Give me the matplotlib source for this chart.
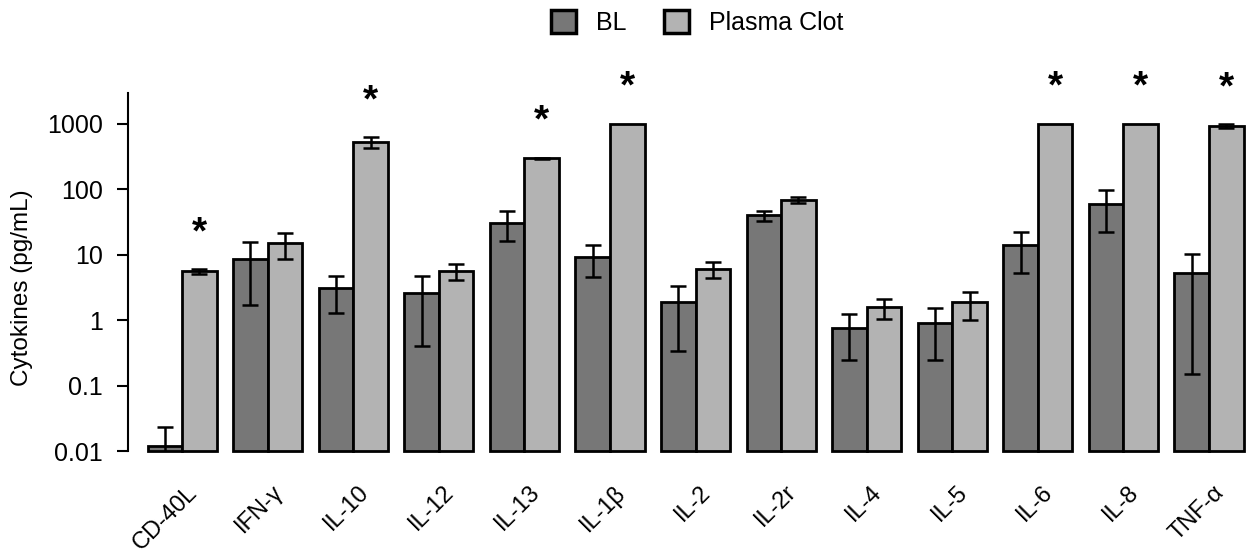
import matplotlib
matplotlib.use("Agg")
import matplotlib.pyplot as plt
import matplotlib.transforms as mtransforms
import numpy as np

plt.rcParams["font.family"] = ["Liberation Sans", "DejaVu Sans"]

# values (pg/mL); low/high are the error bar ends
cytokines = ["CD-40L", "IFN-γ", "IL-10", "IL-12", "IL-13", "IL-1β", "IL-2",
             "IL-2r", "IL-4", "IL-5", "IL-6", "IL-8", "TNF-α"]
bl_mean = [0.012, 8.6, 3.1, 2.6, 31, 9.3, 1.9, 40, 0.76, 0.90, 14.3, 60, 5.3]
bl_low = [0.001, 1.7, 1.3, 0.41, 16.4, 4.6, 0.34, 33, 0.25, 0.25, 5.3, 22.5, 0.15]
bl_high = [0.0235, 15.5, 4.8, 4.7, 46.7, 14.0, 3.4, 46, 1.25, 1.54, 22.5, 99, 10.3]
pc_mean = [5.6, 15.3, 527, 5.7, 297, 1000, 6.1, 70, 1.58, 1.88, 1000, 1000, 925]
pc_low = [5.1, 8.6, 431, 4.2, 288, np.nan, 4.5, 62, 1.05, 1.01, np.nan, np.nan, 870]
pc_high = [6.0, 21.5, 622, 7.2, 306, np.nan, 7.7, 77, 2.09, 2.68, np.nan, np.nan, 985]
significant = [True, False, True, False, True, True, False, False, False, False, True, True, True]

dark = "#777777"
light = "#b3b3b3"
ymin, ymax = 0.01, 2925
w = 0.404

fig = plt.figure(figsize=(12.47, 5.53), dpi=100)
fig.subplots_adjust(left=0.1026, right=0.999, bottom=0.184, top=0.831)
ax = fig.add_subplot(111)
ax.set_yscale("log")

x = np.arange(len(cytokines))

def draw(xpos, mean, low, high, color, label):
    mean = np.array(mean, float)
    low = np.array(low, float)
    high = np.array(high, float)
    ax.bar(xpos, mean - ymin, w, bottom=ymin, color=color, edgecolor="black",
           linewidth=2, label=label, clip_on=False, zorder=2)
    ok = ~np.isnan(low)
    ax.errorbar(xpos[ok], mean[ok], yerr=[mean[ok] - low[ok], high[ok] - mean[ok]],
                fmt="none", ecolor="black", elinewidth=1.8, capsize=5.5,
                capthick=1.8, zorder=3)
    return np.where(ok, high, mean)

bl_top = draw(x - w / 2, bl_mean, bl_low, bl_high, dark, "BL")
pc_top = draw(x + w / 2, pc_mean, pc_low, pc_high, light, "Plasma Clot")

for i, sig in enumerate(significant):
    if sig:
        ax.annotate("*", xy=(x[i] + w / 2, pc_top[i]), xytext=(0, 19),
                    textcoords="offset points", ha="center", va="baseline",
                    fontsize=28, fontweight="bold", annotation_clip=False)

ax.set_ylim(ymin, ymax)
ax.set_xlim(-0.634, 12.43)
ax.set_yticks([0.01, 0.1, 1, 10, 100, 1000])
ax.set_yticklabels(["0.01", "0.1", "1", "10", "100", "1000"])
ax.minorticks_off()
ax.tick_params(axis="y", length=8, width=1.5, pad=10, labelsize=18)

ax.set_xticks(x)
ax.set_xticklabels(cytokines, rotation=45, ha="right", va="top",
                   rotation_mode="anchor", fontsize=17)
ax.tick_params(axis="x", length=0, pad=0)
shift = mtransforms.ScaledTranslation(4 / 100, -30 / 100, fig.dpi_scale_trans)
for lab in ax.get_xticklabels():
    lab.set_transform(lab.get_transform() + shift)

for s in ["top", "right", "bottom"]:
    ax.spines[s].set_visible(False)
ax.spines["left"].set_linewidth(1.5)

ax.set_ylabel("Cytokines (pg/mL)", fontsize=17.5)
ax.yaxis.set_label_coords(-0.085, 0.457)

leg = fig.legend(loc="center", bbox_to_anchor=(0.559, 0.959), ncol=2, frameon=False,
                 fontsize=18, handlelength=1.0, handleheight=1.0, columnspacing=1.5,
                 handletextpad=0.8)
for h in leg.legend_handles:
    h.set_linewidth(2.5)

fig.savefig("out.png", dpi=100)
